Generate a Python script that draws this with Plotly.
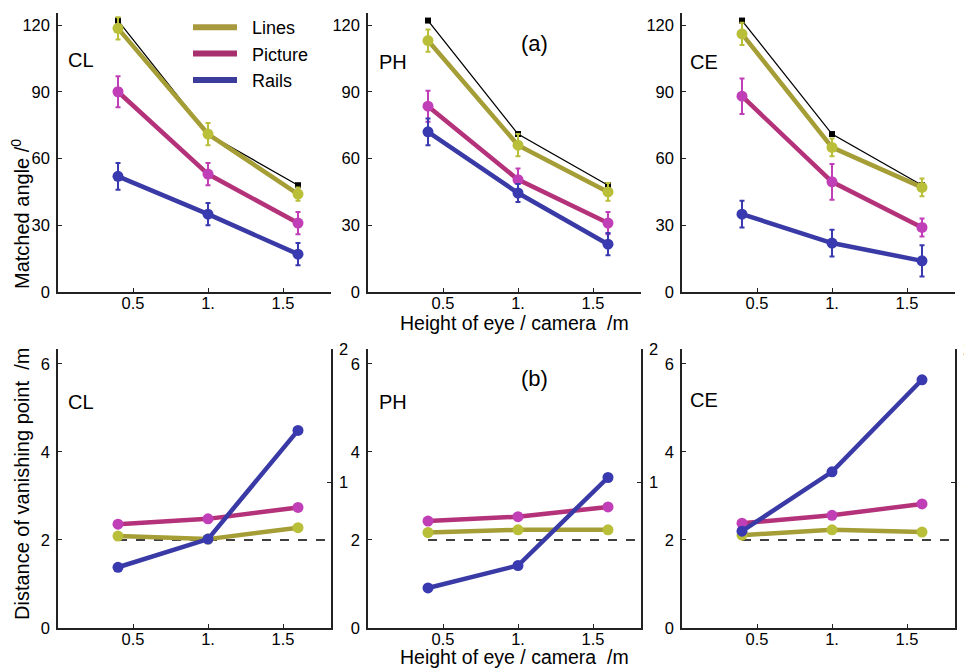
import plotly.graph_objects as go

# ---------------- data ----------------
heights = [0.4, 1.0, 1.6]
x_ticks = [0.5, 1.0, 1.5]
x_ticktext = ["0.5", "1.", "1.5"]
panels = ["CL", "PH", "CE"]
series = ["Lines", "Picture", "Rails"]

# (a) matched angle (deg)
theory_angle = [122, 71, 48]
angle_CL_lines = [118.5, 71, 44]
angle_CL_lines_err = [5, 5, 3]
angle_CL_picture = [90, 53, 31]
angle_CL_picture_err = [7, 5, 5]
angle_CL_rails = [52, 35, 17]
angle_CL_rails_err = [6, 5, 5]

angle_PH_lines = [113, 66, 45]
angle_PH_lines_err = [5, 5, 4]
angle_PH_picture = [83.5, 50.5, 31]
angle_PH_picture_err = [7, 5, 5]
angle_PH_rails = [72, 44.5, 21.5]
angle_PH_rails_err = [6, 4, 5]

angle_CE_lines = [116, 65, 47]
angle_CE_lines_err = [5, 4, 4]
angle_CE_picture = [88, 49.5, 29]
angle_CE_picture_err = [8, 8, 4]
angle_CE_rails = [35, 22, 14]
angle_CE_rails_err = [6, 6, 7]

# (b) distance of vanishing point (m)
dist_CL_lines = [2.09, 2.02, 2.28]
dist_CL_picture = [2.36, 2.48, 2.74]
dist_CL_rails = [1.38, 2.02, 4.49]
dist_PH_lines = [2.17, 2.23, 2.23]
dist_PH_picture = [2.43, 2.53, 2.75]
dist_PH_rails = [0.91, 1.42, 3.42]
dist_CE_lines = [2.11, 2.23, 2.18]
dist_CE_picture = [2.38, 2.56, 2.82]
dist_CE_rails = [2.2, 3.55, 5.64]
reference_distance = 2.0
reference_x = [0.4, 1.82]

angle_ticks = [0, 30, 60, 90, 120]
dist_ticks = [0, 2, 4, 6]
right_range_top = 1.92
right_ticks = [1, right_range_top]
right_ticktext = ["1", "2"]

angles = {
    "CL": [(angle_CL_lines, angle_CL_lines_err), (angle_CL_picture, angle_CL_picture_err), (angle_CL_rails, angle_CL_rails_err)],
    "PH": [(angle_PH_lines, angle_PH_lines_err), (angle_PH_picture, angle_PH_picture_err), (angle_PH_rails, angle_PH_rails_err)],
    "CE": [(angle_CE_lines, angle_CE_lines_err), (angle_CE_picture, angle_CE_picture_err), (angle_CE_rails, angle_CE_rails_err)],
}
dists = {
    "CL": [dist_CL_lines, dist_CL_picture, dist_CL_rails],
    "PH": [dist_PH_lines, dist_PH_picture, dist_PH_rails],
    "CE": [dist_CE_lines, dist_CE_picture, dist_CE_rails],
}

# ---------------- style ----------------
W, H = 972, 668
OFF = 8  # page body margin in the browser
FONT = "Liberation Sans, Arial, Helvetica, sans-serif"
line_colors = ["#a59d35", "#b4327a", "#3a3aa6"]
marker_colors = ["#b9bf38", "#c13fb6", "#3a3ab0"]
legend_colors = ["#a8993e", "#a8306e", "#3c3c9c"]
AX = "#222222"

x_doms = [(58, 331), (368, 641), (682, 955)]
top_dom = (13, 292)
bot_dom = (349, 628)

def px_x(a):
    return (a - OFF) / W

def px_y(a):
    return 1 - (a - OFF) / H

fig = go.Figure()

# top row traces
for i, p in enumerate(panels):
    xa = "x" if i == 0 else f"x{i+1}"
    ya = "y" if i == 0 else f"y{i+1}"
    fig.add_trace(go.Scatter(
        x=heights, y=theory_angle, xaxis=xa, yaxis=ya, mode="lines+markers",
        line=dict(color="black", width=1.3),
        marker=dict(symbol="square", size=6, color="black"),
        showlegend=False, hoverinfo="skip"))
    for k, (vals, err) in enumerate(angles[p]):
        fig.add_trace(go.Scatter(
            x=heights, y=vals, xaxis=xa, yaxis=ya, mode="lines+markers",
            line=dict(color=line_colors[k], width=4.5),
            marker=dict(size=11, color=marker_colors[k]),
            error_y=dict(type="data", array=err, color=marker_colors[k], thickness=2, width=2.5),
            showlegend=False, hoverinfo="skip"))

# bottom row traces
for i, p in enumerate(panels):
    xa = f"x{i+4}"
    ya = f"y{i+4}"
    fig.add_trace(go.Scatter(
        x=reference_x, y=[reference_distance, reference_distance], xaxis=xa, yaxis=ya,
        mode="lines", line=dict(color="black", width=1.4, dash="dash"),
        showlegend=False, hoverinfo="skip"))
    for k, vals in enumerate(dists[p]):
        fig.add_trace(go.Scatter(
            x=heights, y=vals, xaxis=xa, yaxis=ya, mode="lines+markers",
            line=dict(color=line_colors[k], width=4.5),
            marker=dict(size=11, color=marker_colors[k]),
            showlegend=False, hoverinfo="skip"))
    # anchor trace for the right axis
    fig.add_trace(go.Scatter(
        x=[0], y=[0], xaxis=xa, yaxis=f"y{i+7}", mode="markers",
        marker=dict(opacity=0), showlegend=False, hoverinfo="skip"))

# legend entries
for k, s in enumerate(series):
    fig.add_trace(go.Scatter(
        x=[None], y=[None], xaxis="x", yaxis="y", mode="lines", name="\u00a0\u00a0" + s,
        line=dict(color=legend_colors[k], width=6), showlegend=True))

tickfont = dict(family=FONT, size=16.5, color="black")
common_x = dict(range=[0, 1.82], tickvals=x_ticks, ticktext=x_ticktext, showline=True,
                linecolor=AX, linewidth=1.5, ticks="inside", ticklen=4, tickwidth=1.3,
                tickcolor=AX, showgrid=False, zeroline=False, tickfont=tickfont, fixedrange=True,
                automargin=False, ticklabelstandoff=-5)
common_y = dict(showline=True, linecolor=AX, linewidth=1.5, ticks="inside", ticklen=4,
                tickwidth=1.3, tickcolor=AX, showgrid=False, zeroline=False, tickfont=tickfont,
                fixedrange=True, automargin=False, ticklabelstandoff=3)

layout = dict(
    width=W, height=H, margin=dict(l=0, r=0, t=0, b=0, autoexpand=False),
    paper_bgcolor="white", plot_bgcolor="white",
    font=dict(family=FONT, color="black"),
    legend=dict(x=px_x(188), y=px_y(9), xanchor="left", yanchor="top",
                bgcolor="rgba(0,0,0,0)", font=dict(family=FONT, size=18),
                itemwidth=44, tracegroupgap=0),
)
for i in range(3):
    d = x_doms[i]
    sfx = "" if i == 0 else str(i + 1)
    layout[f"xaxis{sfx}"] = dict(common_x, domain=[px_x(d[0]), px_x(d[1])], anchor=f"y{sfx}")
    layout[f"yaxis{sfx}"] = dict(common_y, domain=[px_y(top_dom[1]), px_y(top_dom[0])],
                                 range=[0, 125.4], tickvals=angle_ticks, anchor=f"x{sfx}")
    layout[f"xaxis{i+4}"] = dict(common_x, domain=[px_x(d[0]), px_x(d[1])], anchor=f"y{i+4}")
    layout[f"yaxis{i+4}"] = dict(common_y, domain=[px_y(bot_dom[1]), px_y(bot_dom[0])],
                                 range=[0, 6.34], tickvals=dist_ticks, anchor=f"x{i+4}")
    layout[f"yaxis{i+7}"] = dict(common_y, overlaying=f"y{i+4}", side="right",
                                 anchor=f"x{i+4}", range=[0, right_range_top],
                                 tickvals=right_ticks, ticktext=right_ticktext)

fig.update_layout(**layout)

ann = []
def text(x, y, s, size, angle=0):
    ann.append(dict(x=px_x(x), y=px_y(y), xref="paper", yref="paper", text=s,
                    showarrow=False, textangle=angle, xanchor="center", yanchor="middle",
                    font=dict(family=FONT, size=size, color="black")))

text(81, 60, "CL", 20)
text(393, 62, "PH", 20)
text(704, 62, "CE", 20)
text(534, 43, "(a)", 22)
text(81, 402, "CL", 20)
text(393, 402, "PH", 20)
text(704, 400, "CE", 20)
text(534, 378, "(b)", 22)
text(514, 323, "Height of eye / camera  /m", 19.5)
text(514, 657, "Height of eye / camera  /m", 19.5)
text(20, 214, "Matched angle /<sup>0</sup>", 20, -90)
text(22, 484, "Distance of vanishing point  /m", 20, -90)
fig.update_layout(annotations=ann)

fig.write_html("out.html")
